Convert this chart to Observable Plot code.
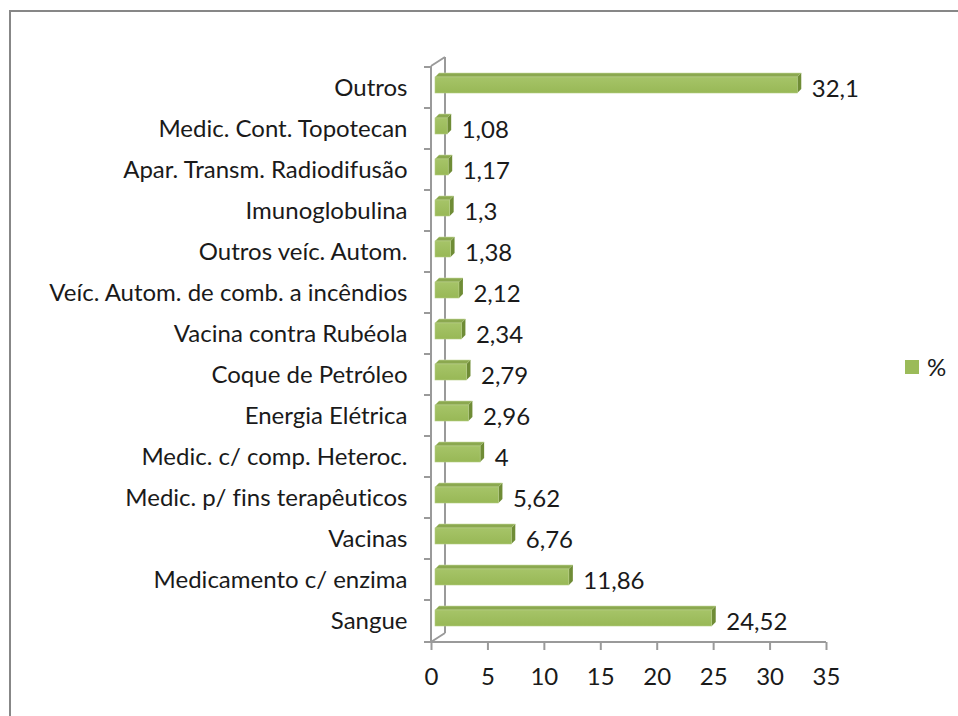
<!DOCTYPE html>
<html>
<head>
<meta charset="utf-8">
<script src="https://cdn.jsdelivr.net/npm/d3@7"></script>
<script src="https://cdn.jsdelivr.net/npm/@observablehq/plot@0.6"></script>
<style>
  html, body { margin: 0; padding: 0; background: #fff; }
  #wrap { position: relative; width: 958px; height: 716px; overflow: hidden; font-family: Lato, "Open Sans", sans-serif; font-variant-ligatures: none; }
  #frame { position: absolute; left: 9px; top: 10px; width: 1000px; height: 800px; border-left: 2px solid #878787; border-top: 2px solid #878787; box-sizing: border-box; }
  #chart { position: absolute; left: 0; top: 0; }
  #chart svg text { font-variant-ligatures: none; }
  #legend { position: absolute; left: 905px; top: 352px; display: flex; align-items: center; font-size: 24px; color: #1a1a1a; }
  #legend .sw { width: 14px; height: 14px; background: #9BBB59; margin-right: 8px; }
</style>
</head>
<body>
<div id="wrap">
  <div id="frame"></div>
  <div id="chart"></div>
  <div id="legend"><div class="sw"></div><span>%</span></div>
</div>
<script>
const categories = [
  "Outros",
  "Medic. Cont. Topotecan",
  "Apar. Transm. Radiodifusão",
  "Imunoglobulina",
  "Outros veíc. Autom.",
  "Veíc. Autom. de comb. a incêndios",
  "Vacina contra Rubéola",
  "Coque de Petróleo",
  "Energia Elétrica",
  "Medic. c/ comp. Heteroc.",
  "Medic. p/ fins terapêuticos",
  "Vacinas",
  "Medicamento c/ enzima",
  "Sangue"
];
const values = [32.1, 1.08, 1.17, 1.3, 1.38, 2.12, 2.34, 2.79, 2.96, 4, 5.62, 6.76, 11.86, 24.52];
const valueLabels = ["32,1", "1,08", "1,17", "1,3", "1,38", "2,12", "2,34", "2,79", "2,96", "4", "5,62", "6,76", "11,86", "24,52"];
const xTicks = [0, 5, 10, 15, 20, 25, 30, 35];
const seriesName = "%";

const data = categories.map((c, i) => ({cat: c, v: values[i], label: valueLabels[i]}));

const W = 958, H = 716;
const mL = 431, mR = 132, mT = 66, mB = 74;
const FONT = 24;
const AXIS = "#9a9a9a";
const WALL_DX = 14, WALL_DY = -9;   // 3D depth of the back wall
const BAR_DX = 4, BAR_DY = -2.5;    // bar front offset
const BAR_D = 4;                     // bar depth
const BAR_H = 16;                    // bar front height

function walls(index, scales, values, dims) {
  const g = d3.create("svg:g").attr("fill", "none").attr("stroke", AXIS).attr("stroke-width", 2);
  const x0 = scales.x(0), xEnd = scales.x(35);
  const yTop = dims.marginTop, yBot = dims.height - dims.marginBottom;
  const path = d3.path();
  path.moveTo(x0 + WALL_DX, yTop + WALL_DY); path.lineTo(x0 + WALL_DX, yBot + WALL_DY);
  path.moveTo(x0, yTop); path.lineTo(x0 + WALL_DX, yTop + WALL_DY);
  path.moveTo(x0, yBot); path.lineTo(x0 + WALL_DX, yBot + WALL_DY);
  path.moveTo(x0, yTop); path.lineTo(x0, yBot);
  path.moveTo(x0 - 7, yBot); path.lineTo(xEnd, yBot);
  for (const c of categories) {
    const y = scales.y(c);
    path.moveTo(x0 - 7, y); path.lineTo(x0, y);
  }
  g.append("path").attr("d", path.toString());
  return g.node();
}

function bars3d(index, scales, values, dims) {
  const g = d3.create("svg:g");
  const bw = scales.y.bandwidth ? scales.y.bandwidth() : 41.14;
  const defs = g.append("defs");
  const grad = defs.append("linearGradient").attr("id", "frontGrad").attr("x1", 0).attr("x2", 0).attr("y1", 0).attr("y2", 1);
  grad.append("stop").attr("offset", "0%").attr("stop-color", "#a6c468");
  grad.append("stop").attr("offset", "100%").attr("stop-color", "#98b856");
  for (const i of index) {
    const d = data[i];
    const xa = scales.x(0) + BAR_DX, xb = scales.x(d.v) + BAR_DX;
    const yc = scales.y(d.cat) + bw / 2 + BAR_DY;
    const yt = yc - BAR_H / 2, yb = yc + BAR_H / 2;
    g.append("polygon")
      .attr("points", [[xa, yt], [xb, yt], [xb + BAR_D, yt - BAR_D], [xa + BAR_D, yt - BAR_D]].join(" "))
      .attr("fill", "#8ba84f").attr("stroke", "#c9dba3").attr("stroke-width", 0.6).attr("stroke-linejoin", "round");
    g.append("polygon")
      .attr("points", [[xb, yt], [xb + BAR_D, yt - BAR_D], [xb + BAR_D, yb - BAR_D], [xb, yb]].join(" "))
      .attr("fill", "#6f8c36");
    g.append("rect")
      .attr("x", xa).attr("y", yt).attr("width", Math.max(0, xb - xa)).attr("height", BAR_H)
      .attr("fill", "url(#frontGrad)").attr("stroke", "#b5cd84").attr("stroke-width", 0.6);
  }
  return g.node();
}

const chart = Plot.plot({
  width: W,
  height: H,
  marginLeft: mL,
  marginRight: mR,
  marginTop: mT,
  marginBottom: mB,
  style: {fontFamily: "Lato, 'Open Sans', sans-serif", fontSize: FONT + "px", color: "#1a1a1a", background: "transparent", overflow: "visible"},
  x: {domain: [0, 35], ticks: xTicks},
  y: {domain: categories, type: "band", padding: 0, align: 0.5},
  marks: [
    Plot.rect(data, {x1: 0, x2: "v", y: "cat", render: walls}),
    Plot.rect(data, {x1: 0, x2: "v", y: "cat", render: bars3d}),
    Plot.text(data, {x: "v", y: "cat", text: "label", dx: 18, dy: 1, textAnchor: "start", fontSize: FONT, fill: "#1a1a1a"}),
    Plot.axisY({tickSize: 0, tickPadding: 24, fontSize: FONT, label: null, fill: "#1a1a1a"}),
    Plot.axisX({ticks: xTicks, tickSize: 8, tickPadding: 17, stroke: AXIS, strokeWidth: 2, fontSize: FONT, label: null, fill: "#1a1a1a", tickFormat: d => String(d)})
  ]
});
document.getElementById("chart").appendChild(chart);
document.querySelector("#legend span").textContent = seriesName;
</script>
</body>
</html>
